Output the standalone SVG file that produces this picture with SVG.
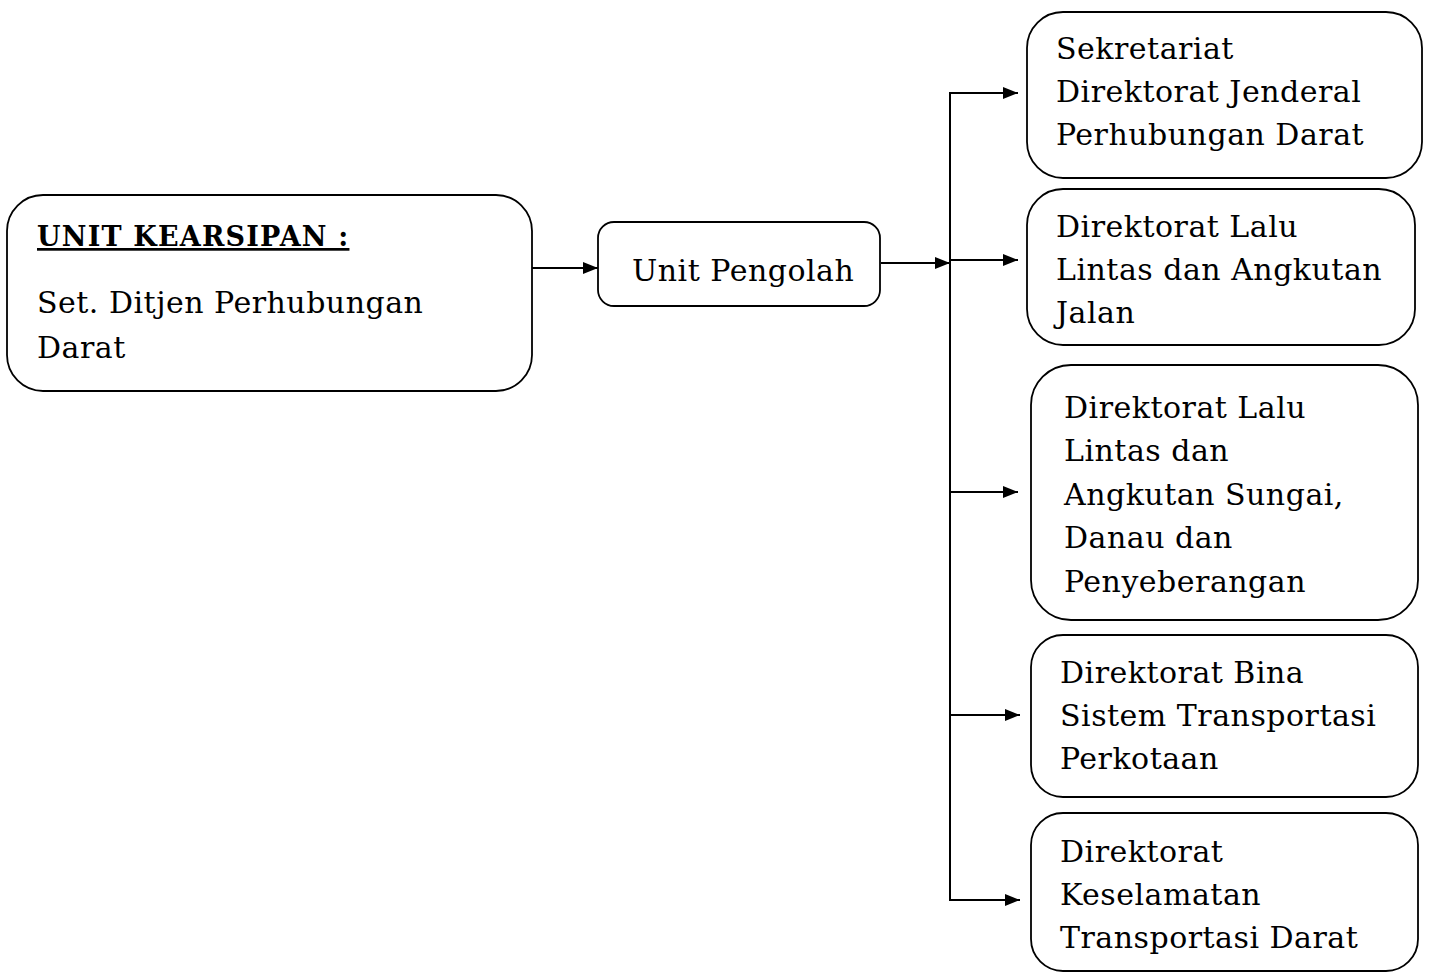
<svg xmlns="http://www.w3.org/2000/svg" width="1429" height="973" viewBox="0 0 1429 973">
<style>
.box{fill:#fff;stroke:#000;stroke-width:1.8}
.t{font-family:"DejaVu Serif","Liberation Serif",serif;font-size:30px;letter-spacing:0.5px;fill:#000}
.b{font-family:"DejaVu Serif","Liberation Serif",serif;font-size:27px;letter-spacing:1.2px;font-weight:bold;fill:#000;text-decoration:underline}
.c{fill:none;stroke:#000;stroke-width:2}
</style>
<defs>
<marker id="ah" viewBox="0 0 15 12" refX="15" refY="6" markerWidth="15" markerHeight="12" markerUnits="userSpaceOnUse" orient="auto">
<path d="M0,0 L15,6 L0,12 Z" fill="#000"/>
</marker>
</defs>
<rect width="1429" height="973" fill="#fff"/>
<g id="connectors">
<line class="c" x1="532" y1="268" x2="598" y2="268" marker-end="url(#ah)"/>
<line class="c" x1="881" y1="263" x2="950" y2="263" marker-end="url(#ah)"/>
<line class="c" x1="950" y1="92" x2="950" y2="901"/>
<line class="c" x1="949" y1="93" x2="1018" y2="93" marker-end="url(#ah)"/>
<line class="c" x1="949" y1="260" x2="1018" y2="260" marker-end="url(#ah)"/>
<line class="c" x1="949" y1="492" x2="1018" y2="492" marker-end="url(#ah)"/>
<line class="c" x1="949" y1="715" x2="1020" y2="715" marker-end="url(#ah)"/>
<line class="c" x1="949" y1="900" x2="1020" y2="900" marker-end="url(#ah)"/>
</g>
<g id="unit-kearsipan">
<rect class="box" x="7" y="195" width="525" height="196" rx="36"/>
<text class="b" x="37" y="246">UNIT KEARSIPAN :</text>
<text class="t" x="37" y="313">Set. Ditjen Perhubungan</text>
<text class="t" x="37" y="358">Darat</text>
</g>
<g id="unit-pengolah">
<rect class="box" x="598" y="222" width="282" height="84" rx="16"/>
<text class="t" x="632" y="281">Unit Pengolah</text>
</g>
<g id="sekretariat">
<rect class="box" x="1027" y="12" width="395" height="166" rx="36"/>
<text class="t" x="1056" y="59">Sekretariat</text>
<text class="t" x="1056" y="102">Direktorat Jenderal</text>
<text class="t" x="1056" y="145">Perhubungan Darat</text>
</g>
<g id="dit-llaj">
<rect class="box" x="1027" y="189" width="388" height="156" rx="36"/>
<text class="t" x="1056" y="237">Direktorat Lalu</text>
<text class="t" x="1056" y="280">Lintas dan Angkutan</text>
<text class="t" x="1056" y="323">Jalan</text>
</g>
<g id="dit-llasdp">
<rect class="box" x="1031" y="365" width="387" height="255" rx="40"/>
<text class="t" x="1064" y="418">Direktorat Lalu</text>
<text class="t" x="1064" y="461">Lintas dan</text>
<text class="t" x="1064" y="505">Angkutan Sungai,</text>
<text class="t" x="1064" y="548">Danau dan</text>
<text class="t" x="1064" y="592">Penyeberangan</text>
</g>
<g id="dit-bstp">
<rect class="box" x="1031" y="635" width="387" height="162" rx="32"/>
<text class="t" x="1060" y="683">Direktorat Bina</text>
<text class="t" x="1060" y="726">Sistem Transportasi</text>
<text class="t" x="1060" y="769">Perkotaan</text>
</g>
<g id="dit-ktd">
<rect class="box" x="1031" y="813" width="387" height="158" rx="32"/>
<text class="t" x="1060" y="862">Direktorat</text>
<text class="t" x="1060" y="905">Keselamatan</text>
<text class="t" x="1060" y="948">Transportasi Darat</text>
</g>
</svg>
